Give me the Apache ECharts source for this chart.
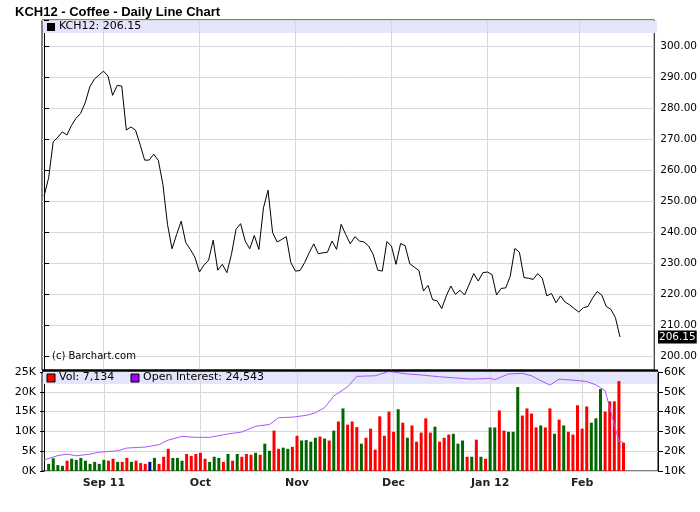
<!DOCTYPE html>
<html>
<head>
<meta charset="utf-8">
<script src="https://cdn.jsdelivr.net/npm/echarts@6/dist/echarts.min.js"></script>
<style>body{margin:0;background:#fff}#chart{width:700px;height:512px}</style>
</head>
<body>
<div id="chart"></div>
<script>
// daily closes, index 0 = first session shown
var prices = [251.6,257.5,269.1,270.6,272.3,271.3,274.4,276.7,278.3,281.7,
	286.8,289.3,290.6,291.9,290.3,284.1,287.3,287.1,272.9,273.9,
	272.9,268.3,263.2,263.2,265.1,263.1,255.4,242.5,234.6,239.2,
	243.5,236.6,234.4,231.9,227.1,229.4,230.9,237.4,227.7,229.6,
	226.9,232.8,240.9,242.7,237.1,234.6,238.9,234.4,247.8,253.5,
	239.8,236.8,237.6,238.5,230.1,227.4,227.6,230.1,233.3,236.2,
	233.0,233.3,233.5,237.1,234.4,242.5,239.2,236.2,238.5,237.1,
	236.8,235.5,232.8,227.7,227.4,236.9,235.5,229.6,236.3,235.6,
	229.8,228.7,227.6,221.0,222.8,218.2,217.8,215.3,219.4,222.6,
	219.9,221.2,219.7,223.1,226.6,224.2,226.9,227.1,226.3,219.7,
	221.8,222.0,225.8,234.7,233.5,225.3,225.1,224.7,226.6,225.1,
	219.4,220.2,217.2,219.4,217.4,216.5,215.3,214.2,215.6,216.0,
	218.7,220.8,219.7,216.0,215.1,212.4,206.15];
// volume in thousands (null = no bar)
var volumes = [null,1.8,3.2,1.5,1.3,2.6,3.1,2.8,3.3,2.6,
	1.8,2.3,1.8,2.8,2.6,3.1,2.3,2.3,3.3,2.3,
	2.6,2.0,1.8,2.3,3.3,1.8,3.6,5.6,3.3,3.3,
	2.6,4.3,3.8,4.3,4.6,3.1,2.3,3.6,3.3,2.3,
	4.3,2.6,4.3,3.6,4.3,4.1,4.6,4.1,6.9,5.1,
	10.2,5.6,5.9,5.6,6.1,8.9,7.7,7.8,7.4,8.4,
	8.7,8.2,7.7,10.2,12.5,15.8,11.7,12.5,11.1,6.9,
	8.4,10.7,5.4,13.8,8.9,15.0,9.9,15.6,12.2,8.4,
	11.5,7.4,9.7,13.3,9.7,11.2,7.4,8.4,9.2,9.4,
	6.9,7.7,3.6,3.6,7.9,3.6,3.1,11.0,11.0,15.3,
	10.2,9.9,9.9,21.2,14.0,15.8,14.5,11.0,11.5,11.0,
	15.8,9.4,13.0,11.5,9.9,9.2,16.6,10.7,16.3,12.2,
	13.3,20.7,15.0,17.6,17.6,22.7,7.134];
// g = up (green), r = down (red), n = unchanged (navy)
var volDir = ' ggggrggggggggrrgrrgrrrngrrrggg rrrrgggrgrgrrrgrggrrggrrggggrgrgrgrrrgrrrrrrrgrgrrrrrgrrrgggrgrgrggrrgggrrrrgrrgrgrrrrrgggrrrr'
	.split('');
// open interest in thousands, [session index, value]
var openInt = [[0,15.6],[3,17.8],[5,18.5],[7,17.7],[10,18.5],[12,19.5],[16,20.2],[18,21.6],
	[22,22.1],[25,23.3],[27,25.6],[30,27.5],[33,27.0],[36,27.0],[40,28.7],[43,29.7],
	[46,32.6],[49,33.5],[51,36.9],[54,37.2],[57,38.1],[59,39.4],[61,42.0],[63,47.9],
	[66,52.5],[68,57.8],[72,58.1],[75,60.3],[79,59.0],[82,58.5],[86,57.6],[90,56.9],
	[93,56.4],[97,56.8],[98,56.1],[101,59.0],[104,59.3],[106,58.1],[108,55.6],[110,53.4],
	[112,56.4],[115,55.9],[118,55.2],[120,53.5],[122,50.5],[123,42.0],[125,25.0],[126,24.543]];
var monthIdx = [13, 34, 55, 76, 97, 117];
var monthLabels = ['Sep 11', 'Oct', 'Nov', 'Dec', 'Jan 12', 'Feb'];

var FONT = 'DejaVu Sans';
var chart = echarts.init(document.getElementById('chart'));

var volData = volumes.map(function(v, i) {
	if (v == null) return [i, null];
	var c = volDir[i] == 'g' ? '#006600' : (volDir[i] == 'n' ? '#000080' : '#ff0000');
	return { value: [i, v * 1000], itemStyle: { color: c } };
});
var closeData = prices.map(function(p, i) { return [i, p]; });
var oiData = openInt.map(function(d) { return [d[0], d[1] * 1000]; });

function monthLabel(v) {
	var k = monthIdx.indexOf(Math.round(v));
	return k >= 0 ? monthLabels[k] : '';
}
var gridLine = { show: true, lineStyle: { color: '#d8d8d8', width: 1 } };
// vertical month lines
var monthLines = {
	silent: true, symbol: 'none', label: { show: false },
	lineStyle: { color: '#d8d8d8', type: 'solid', width: 1 },
	data: monthIdx.map(function(m) { return { xAxis: m }; })
};

option = {
	animation: false,
	textStyle: { fontFamily: FONT },
	title: {
		text: 'KCH12 - Coffee - Daily Line Chart',
		left: 10, top: 1,
		textStyle: { fontFamily: 'Liberation Sans', fontWeight: 'bold', fontSize: 13, color: '#000' }
	},
	grid: [
		{ left: 42, top: 20, width: 616, height: 350, show: true, borderColor: '#000', borderWidth: 1 },
		{ left: 42, top: 372, width: 616, height: 99, show: true, borderColor: '#000', borderWidth: 1 }
	],
	xAxis: [
		{ gridIndex: 0, type: 'value', min: -0.45, max: 133.5,
			axisLine: { show: false }, axisTick: { show: false },
			axisLabel: { show: false }, splitLine: { show: false } },
		{ gridIndex: 1, type: 'value', min: -0.45, max: 133.5,
			axisLine: { show: false }, axisTick: { show: false },
			axisLabel: { customValues: monthIdx, formatter: monthLabel, fontWeight: 'bold', fontSize: 11, color: '#222', margin: 7 },
			splitLine: { show: false } }
	],
	yAxis: [
		{ gridIndex: 0, type: 'value', position: 'right', min: 195.5, max: 308.4, splitNumber: 11,
			axisLabel: { customValues: [200,210,220,230,240,250,260,270,280,290,300], formatter: function(v) { return v.toFixed(2); }, fontSize: 10.5, color: '#000', margin: 6 },
			axisTick: { show: true, length: 5, lineStyle: { color: '#000' } },
			axisLine: { show: true, lineStyle: { color: '#000' } },
			splitLine: gridLine },
		{ gridIndex: 1, type: 'value', position: 'left', min: 0, max: 25000, interval: 5000,
			axisLabel: { formatter: function(v) { return (v / 1000) + 'K'; }, fontSize: 11, color: '#000', margin: 6 },
			axisTick: { show: true, length: 4, lineStyle: { color: '#000' } },
			axisLine: { show: true, lineStyle: { color: '#000' } },
			splitLine: gridLine },
		{ gridIndex: 1, type: 'value', position: 'right', min: 10000, max: 60000, interval: 10000,
			axisLabel: { formatter: function(v) { return (v / 1000) + 'K'; }, fontSize: 11, color: '#000', margin: 6 },
			axisTick: { show: true, length: 5, lineStyle: { color: '#000' } },
			axisLine: { show: true, lineStyle: { color: '#000' } },
			splitLine: { show: false } }
	],
	graphic: [
		{ type: 'rect', shape: { x: 43, y: 21, width: 614, height: 12 }, style: { fill: '#e4e4fa' }, z: 1 },
		{ type: 'rect', shape: { x: 47, y: 23, width: 8, height: 8 }, style: { fill: '#000' }, z: 51 },
		{ type: 'text', left: 59, top: 21, style: { text: 'KCH12: 206.15', font: '11px DejaVu Sans', fill: '#000' }, z: 51 },
		{ type: 'text', left: 52, top: 351, style: { text: '(c) Barchart.com', font: '10px DejaVu Sans', fill: '#000' }, z: 51 },
		{ type: 'rect', shape: { x: 43, y: 372, width: 614, height: 12 }, style: { fill: '#e4e4fa' }, z: 1 },
		{ type: 'rect', shape: { x: 47, y: 374, width: 8, height: 8 }, style: { fill: '#ff0000', stroke: '#000', lineWidth: 1 }, z: 51 },
		{ type: 'text', left: 59, top: 372, style: { text: 'Vol: 7,134', font: '11px DejaVu Sans', fill: '#000' }, z: 51 },
		{ type: 'rect', shape: { x: 131, y: 374, width: 8, height: 8 }, style: { fill: '#9900ff', stroke: '#000', lineWidth: 1 }, z: 51 },
		{ type: 'text', left: 143, top: 372, style: { text: 'Open Interest: 24,543', font: '11px DejaVu Sans', fill: '#000' }, z: 51 },
		{ type: 'line', shape: { x1: 42, y1: 370.5, x2: 658, y2: 370.5 }, style: { stroke: '#000', lineWidth: 2 }, z: 60 }
	],
	series: [
		{ type: 'line', xAxisIndex: 0, yAxisIndex: 0, data: closeData, symbol: 'none', z: 5,
			lineStyle: { color: '#000', width: 1 },
			markLine: monthLines,
			endLabel: { show: true, formatter: '206.15', distance: 38, backgroundColor: '#000', color: '#fff', fontSize: 10.5, padding: [1, 1] } },
		{ type: 'bar', xAxisIndex: 1, yAxisIndex: 1, data: volData, barWidth: 3, z: 5, markLine: monthLines },
		{ type: 'line', xAxisIndex: 1, yAxisIndex: 2, data: oiData, symbol: 'none',
			lineStyle: { color: '#aa55ff', width: 1 }, z: 6 }
	]
};
chart.setOption(option);
</script>
</body>
</html>
